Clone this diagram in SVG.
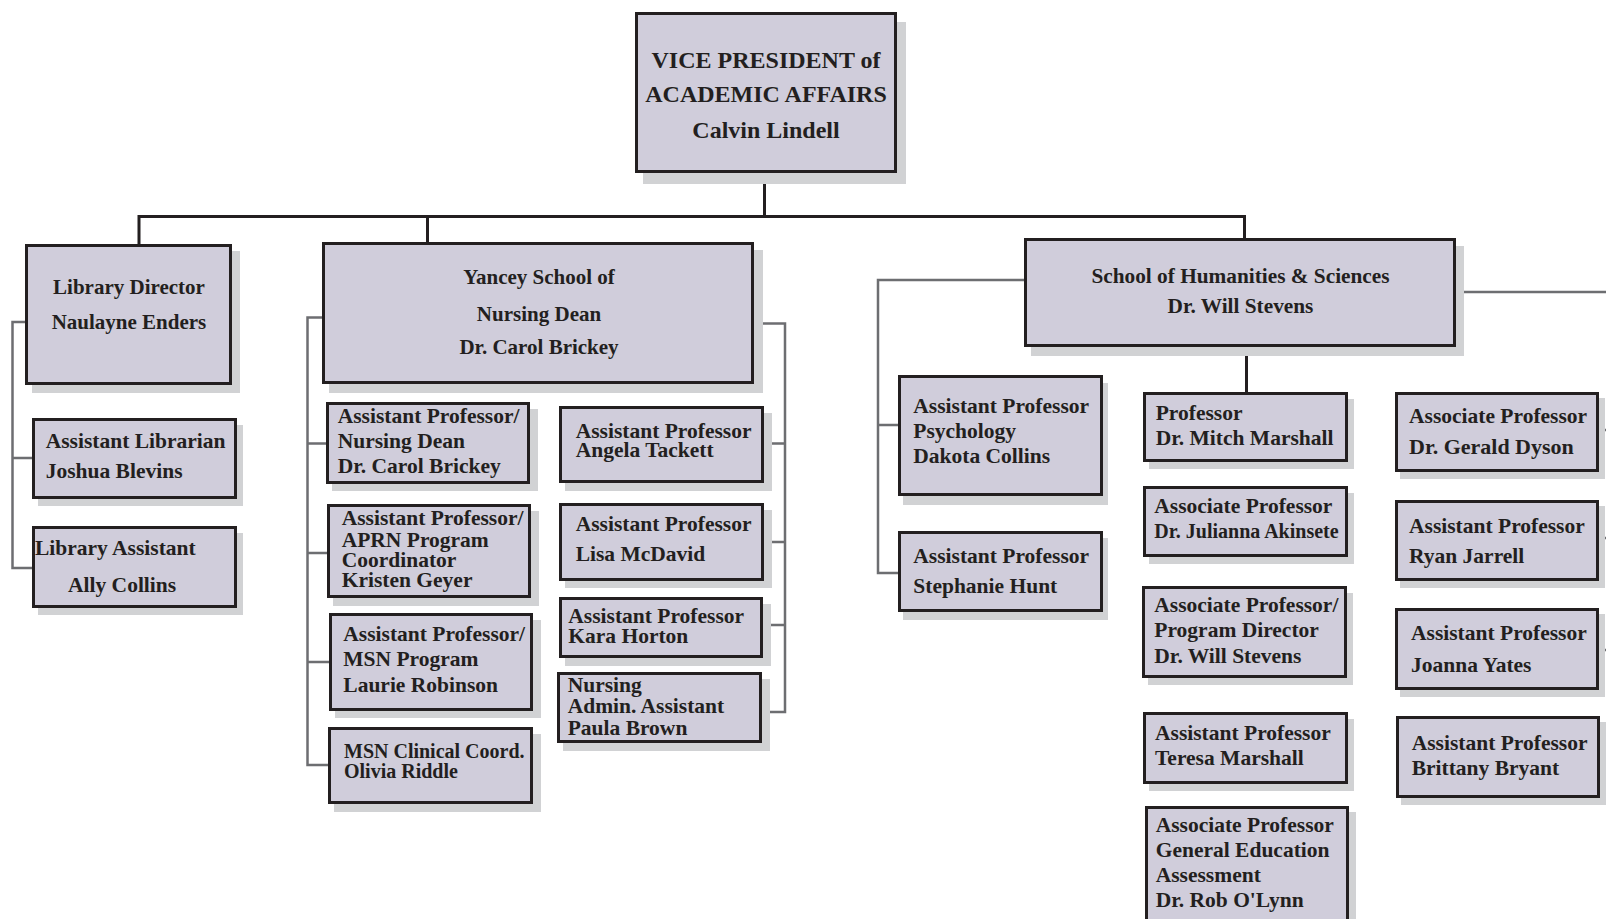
<svg xmlns="http://www.w3.org/2000/svg" width="1606" height="919" viewBox="0 0 1606 919">
<style>
.sh{fill:#d1d2d4}
.bx{fill:#d0cddb;stroke:#231f20;stroke-width:3}
text{font-family:"Liberation Serif","Times New Roman",serif;font-weight:bold;font-size:21.5px;fill:#231f20}
.c{text-anchor:middle}
.main{stroke:#231f20;stroke-width:3;fill:none}
.sub{stroke:#6d6e71;stroke-width:2.5;fill:none}
</style>
<rect width="1606" height="919" fill="#ffffff"/>
<g id="connectors">
<path class="main" d="M764.5 173V216.5M137.5 216.5H1246M139 216.5V244M427.5 216.5V242M1244.5 216.5V238M1246.5 347V392"/>
<path class="sub" d="M25 322H12.5V568H32M12.5 458H32"/>
<path class="sub" d="M322 317.5H307.5V765H328M307.5 443.5H326M307.5 553H327M307.5 662H329"/>
<path class="sub" d="M754 323.5H785V712H762M764 443.5H785M764 542H785M763 625H785"/>
<path class="sub" d="M1024 280H878V573H898M878 425H898"/>
<path class="sub" d="M1456 292H1606"/>
<path class="sub" d="M1599 430H1606M1599 538H1606M1599 650H1606M1600 757H1606"/>
</g>
<g id="vp">
<rect class="sh" x="643" y="22" width="263" height="162"/>
<rect class="bx" x="636.5" y="13.5" width="259" height="158"/>
<text class="c" x="766" y="68" style="font-size:24px">VICE PRESIDENT of</text>
<text class="c" x="766" y="102" style="font-size:24px">ACADEMIC AFFAIRS</text>
<text class="c" x="766" y="138" style="font-size:24px">Calvin Lindell</text>
</g>
<g id="library-director">
<rect class="sh" x="32" y="251" width="208" height="142"/>
<rect class="bx" x="26.5" y="245.5" width="204" height="138"/>
<text class="c" x="129" y="294" style="font-size:21px">Library Director</text>
<text class="c" x="129" y="329" style="font-size:21px">Naulayne Enders</text>
</g>
<g id="assistant-librarian">
<rect class="sh" x="38" y="425" width="205" height="81"/>
<rect class="bx" x="33.5" y="419.5" width="202" height="78"/>
<text x="45.7" y="448">Assistant Librarian</text>
<text x="45.7" y="478">Joshua Blevins</text>
</g>
<g id="library-assistant">
<rect class="sh" x="38" y="533" width="205" height="82"/>
<rect class="bx" x="33.5" y="527.5" width="202" height="79"/>
<text x="35" y="555">Library Assistant</text>
<text x="68" y="591.7">Ally Collins</text>
</g>
<g id="yancey-dean">
<rect class="sh" x="329" y="250" width="434" height="143"/>
<rect class="bx" x="323.5" y="243.5" width="429" height="139"/>
<text class="c" x="539" y="284.3" style="font-size:21px">Yancey School of</text>
<text class="c" x="539" y="320.7" style="font-size:21px">Nursing Dean</text>
<text class="c" x="539" y="354" style="font-size:21px">Dr. Carol Brickey</text>
</g>
<g id="brickey">
<rect class="sh" x="332" y="409" width="206" height="82"/>
<rect class="bx" x="327.5" y="403.5" width="201" height="79"/>
<text x="337.7" y="423.3">Assistant Professor/</text>
<text x="337.7" y="448.3">Nursing Dean</text>
<text x="337.7" y="473.3">Dr. Carol Brickey</text>
</g>
<g id="geyer">
<rect class="sh" x="333" y="511" width="206" height="95"/>
<rect class="bx" x="328.5" y="505.5" width="201" height="91"/>
<text x="341.7" y="525">Assistant Professor/</text>
<text x="341.7" y="546.7">APRN Program</text>
<text x="341.7" y="566.7">Coordinator</text>
<text x="341.7" y="587.3">Kristen Geyer</text>
</g>
<g id="robinson">
<rect class="sh" x="335" y="620" width="206" height="98"/>
<rect class="bx" x="330.5" y="614.5" width="201" height="95"/>
<text x="343.3" y="640.7">Assistant Professor/</text>
<text x="343.3" y="666">MSN Program</text>
<text x="343.3" y="691.7">Laurie Robinson</text>
</g>
<g id="riddle">
<rect class="sh" x="334" y="734" width="207" height="78"/>
<rect class="bx" x="329.5" y="728.5" width="202" height="74"/>
<text x="344" y="758.3" style="font-size:20px">MSN Clinical Coord.</text>
<text x="344" y="778.3" style="font-size:20px">Olivia Riddle</text>
</g>
<g id="tackett">
<rect class="sh" x="565" y="413" width="207" height="78"/>
<rect class="bx" x="560.5" y="407.5" width="202" height="74"/>
<text x="575.7" y="437.7">Assistant Professor</text>
<text x="575.7" y="456.7">Angela Tackett</text>
</g>
<g id="mcdavid">
<rect class="sh" x="565" y="510" width="207" height="78"/>
<rect class="bx" x="560.5" y="504.5" width="202" height="75"/>
<text x="575.7" y="530.7">Assistant Professor</text>
<text x="575.7" y="560.7">Lisa McDavid</text>
</g>
<g id="horton">
<rect class="sh" x="565" y="604" width="206" height="62"/>
<rect class="bx" x="560.5" y="598.5" width="201" height="58"/>
<text x="568.3" y="623.3">Assistant Professor</text>
<text x="568.3" y="643.3">Kara Horton</text>
</g>
<g id="brown">
<rect class="sh" x="563" y="679" width="207" height="72"/>
<rect class="bx" x="558.5" y="673.5" width="202" height="68"/>
<text x="567.7" y="691.7">Nursing</text>
<text x="567.7" y="713.3">Admin. Assistant</text>
<text x="567.7" y="735">Paula Brown</text>
</g>
<g id="humanities-dean">
<rect class="sh" x="1031" y="246" width="433" height="110"/>
<rect class="bx" x="1025.5" y="239.5" width="429" height="106"/>
<text class="c" x="1240.5" y="283.3" style="font-size:21.3px">School of Humanities &amp; Sciences</text>
<text class="c" x="1240.5" y="313.3" style="font-size:21.3px">Dr. Will Stevens</text>
</g>
<g id="collins">
<rect class="sh" x="903" y="383" width="205" height="122"/>
<rect class="bx" x="899.5" y="376.5" width="202" height="118"/>
<text x="913.3" y="412.7">Assistant Professor</text>
<text x="913.3" y="438.3">Psychology</text>
<text x="913.3" y="463.3">Dakota Collins</text>
</g>
<g id="hunt">
<rect class="sh" x="903" y="538" width="205" height="82"/>
<rect class="bx" x="899.5" y="532.5" width="202" height="78"/>
<text x="913.3" y="562.7">Assistant Professor</text>
<text x="913.3" y="592.7">Stephanie Hunt</text>
</g>
<g id="marshall-mitch">
<rect class="sh" x="1149" y="399" width="205" height="70"/>
<rect class="bx" x="1144.5" y="393.5" width="202" height="67"/>
<text x="1155.7" y="420">Professor</text>
<text x="1155.7" y="445">Dr. Mitch Marshall</text>
</g>
<g id="akinsete">
<rect class="sh" x="1149" y="493" width="205" height="71"/>
<rect class="bx" x="1144.5" y="487.5" width="202" height="68"/>
<text x="1154.3" y="512.7">Associate Professor</text>
<text x="1154.3" y="538.3" style="font-size:20px">Dr. Julianna Akinsete</text>
</g>
<g id="stevens">
<rect class="sh" x="1148" y="593" width="205" height="92"/>
<rect class="bx" x="1143.5" y="587.5" width="202" height="89"/>
<text x="1154.3" y="611.7">Associate Professor/</text>
<text x="1154.3" y="636.7">Program Director</text>
<text x="1154.3" y="663.3">Dr. Will Stevens</text>
</g>
<g id="marshall-teresa">
<rect class="sh" x="1149" y="719" width="205" height="72"/>
<rect class="bx" x="1144.5" y="713.5" width="202" height="69"/>
<text x="1155" y="740">Assistant Professor</text>
<text x="1155" y="765">Teresa Marshall</text>
</g>
<g id="olynn">
<rect class="sh" x="1151" y="812" width="205" height="130"/>
<rect class="bx" x="1146.5" y="807.5" width="201" height="130"/>
<text x="1155.7" y="831.7">Associate Professor</text>
<text x="1155.7" y="857.3">General Education</text>
<text x="1155.7" y="881.7">Assessment</text>
<text x="1155.7" y="907.3">Dr. Rob O'Lynn</text>
</g>
<g id="dyson">
<rect class="sh" x="1400" y="398" width="205" height="81"/>
<rect class="bx" x="1396.5" y="393.5" width="201" height="77"/>
<text x="1409" y="423.3">Associate Professor</text>
<text x="1409" y="454.3" style="font-size:22px">Dr. Gerald Dyson</text>
</g>
<g id="jarrell">
<rect class="sh" x="1400" y="506" width="205" height="82"/>
<rect class="bx" x="1396.5" y="501.5" width="201" height="78"/>
<text x="1409" y="532.7">Assistant Professor</text>
<text x="1409" y="562.7">Ryan Jarrell</text>
</g>
<g id="yates">
<rect class="sh" x="1400" y="614" width="205" height="83"/>
<rect class="bx" x="1396.5" y="609.5" width="201" height="79"/>
<text x="1411" y="640">Assistant Professor</text>
<text x="1411" y="671.7">Joanna Yates</text>
</g>
<g id="bryant">
<rect class="sh" x="1401" y="722" width="205" height="83"/>
<rect class="bx" x="1397.5" y="717.5" width="201" height="79"/>
<text x="1411.7" y="750">Assistant Professor</text>
<text x="1411.7" y="775">Brittany Bryant</text>
</g>
</svg>
